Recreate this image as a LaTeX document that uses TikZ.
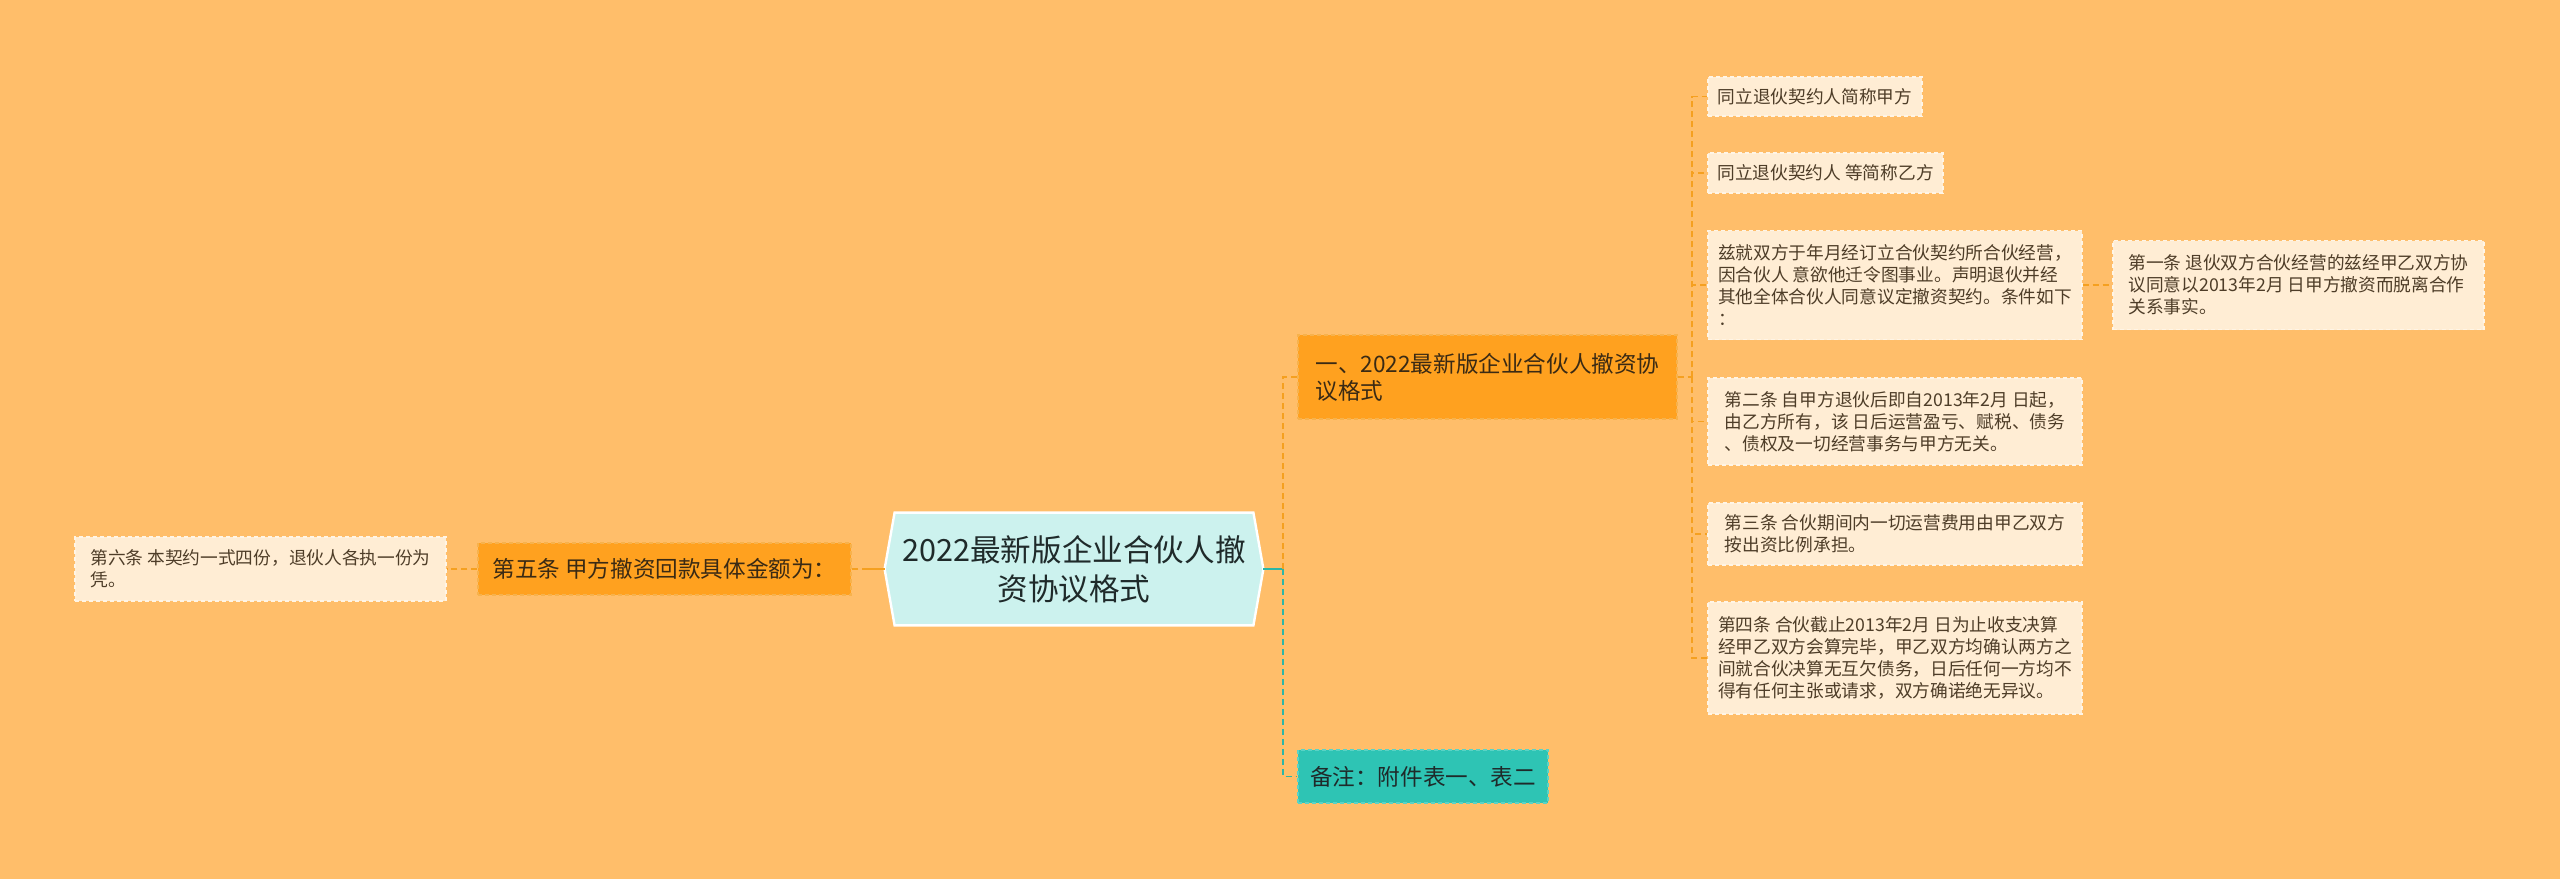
\documentclass[tikz,border=0pt]{standalone}
\usepackage{fontspec}
\usepackage{xcolor}
\usepackage{tikz}
\newfontfamily\cjk{Noto Sans CJK SC}
\usetikzlibrary{positioning,calc,backgrounds}
\pgfdeclarelayer{canvas}
\pgfsetlayers{canvas,background,main}

\definecolor{paper}{HTML}{FFBE6A}
\definecolor{leaffill}{HTML}{FFEDD4}
\definecolor{leafline}{HTML}{FFF5E6}
\definecolor{leaftext}{HTML}{4E3D28}
\definecolor{secfill}{HTML}{FFA11F}
\definecolor{secline}{HTML}{F7B24C}
\definecolor{sectext}{HTML}{3A2A14}
\definecolor{notefill}{HTML}{2EC4B4}
\definecolor{noteline}{HTML}{5AD3C6}
\definecolor{rootfill}{HTML}{CCF2EE}
\definecolor{roottext}{HTML}{1F2A2A}
\definecolor{olink}{HTML}{F5A020}
\definecolor{tlink}{HTML}{2DB6A6}

\begin{document}
\begin{tikzpicture}[x=0.5pt,y=-0.5pt,
        leaf/.style={draw=leafline, dash pattern=on 2pt off 1.5pt, line width=0.6pt, fill=leaffill,
            text=leaftext, font=\cjk\fontsize{8.85pt}{11pt}\selectfont, align=left, inner sep=0pt},
        sec/.style={draw=secline, dash pattern=on 2pt off 1.5pt, line width=0.6pt, fill=secfill,
            text=sectext, font=\cjk\fontsize{11.3pt}{13.5pt}\selectfont, align=left, inner sep=0pt},
        note/.style={sec, draw=noteline, fill=notefill, text=roottext},
        root/.style={text=roottext, font=\cjk\fontsize{15.3pt}{19.5pt}\selectfont, align=center,
            inner sep=0pt, minimum width=179pt, minimum height=56pt},
        olinkd/.style={draw=olink, line width=0.8pt, dash pattern=on 3pt off 2pt},
        tlinkd/.style={draw=tlink, line width=0.8pt, dash pattern=on 3pt off 2pt}
    ]
        \useasboundingbox (0,0) rectangle (2560,879);
        \begin{pgfonlayer}{canvas}
            \fill[paper] (0,0) rectangle (2560,879);
        \end{pgfonlayer}

        % Centre
        \node (root) [root] at (1074,569) {2022最新版企业合伙人撤\\资协议格式};
        \coordinate (rootR) at ($(root.east)+(10,0)$);
        \coordinate (rootL) at ($(root.west)+(-10,0)$);
        \begin{pgfonlayer}{background}
            \draw[white, line width=1.2pt, fill=rootfill] (root.north west) -- (root.north east) -- (rootR)
                -- (root.south east) -- (root.south west) -- (rootL) -- cycle;
        \end{pgfonlayer}

        % Main branches
        \node (sec) [sec, minimum width=189.5pt, minimum height=42pt] at (1487.5,377)
            {一、2022最新版企业合伙人撤资协\\议格式};
        \node (note) [note, minimum width=125pt, minimum height=26.5pt] at (1423,776.5)
            {备注：附件表一、表二};
        \node (art5) [sec, minimum width=186.5pt, minimum height=26pt] at (664.5,569)
            {第五条 甲方撤资回款具体金额为：};
        \node (art6) [leaf, minimum width=185.5pt, minimum height=32pt] at (260.5,569)
            {第六条 本契约一式四份，退伙人各执一份为\\凭。};

        % Leaves
        \node (alias1) [leaf, minimum width=107pt, minimum height=19.5pt] at (1815,96.5)
            {同立退伙契约人简称甲方};
        \node (alias2) [leaf, minimum width=117.5pt, minimum height=20pt] at (1825.5,173)
            {同立退伙契约人 等简称乙方};
        \node (intro) [leaf, minimum width=187pt, minimum height=54.5pt] at (1895,285)
            {兹就双方于年月经订立合伙契约所合伙经营，\\因合伙人 意欲他迁令图事业。声明退伙并经\\其他全体合伙人同意议定撤资契约。条件如下\\：};
        \node (art1) [leaf, minimum width=185.5pt, minimum height=44.5pt] at (2298.5,285)
            {第一条 退伙双方合伙经营的兹经甲乙双方协\\议同意以2013年2月 日甲方撤资而脱离合作\\关系事实。};
        \node (art2) [leaf, minimum width=187pt, minimum height=43.5pt] at (1895,421.5)
            {第二条 自甲方退伙后即自2013年2月 日起，\\由乙方所有，该 日后运营盈亏、赋税、债务\\、债权及一切经营事务与甲方无关。};
        \node (art3) [leaf, minimum width=187pt, minimum height=31pt] at (1895,534)
            {第三条 合伙期间内一切运营费用由甲乙双方\\按出资比例承担。};
        \node (art4) [leaf, minimum width=187pt, minimum height=56pt] at (1895,658)
            {第四条 合伙截止2013年2月 日为止收支决算\\经甲乙双方会算完毕，甲乙双方均确认两方之\\间就合伙决算无互欠债务，日后任何一方均不\\得有任何主张或请求，双方确诺绝无异议。};

        % Right connectors
        \coordinate (rj) at (1283,569);
        \draw [tlink, line width=1pt] (rootR) -- (rj);
        \draw [olinkd] (rj) |- (sec.west);
        \draw [tlinkd] (rj) |- (note.west);
        \coordinate (sj) at (1692,377);
        \draw [olinkd] (sec.east) -- (sj);
        \foreach \leafname in {alias1,alias2,intro,art2,art3,art4}
            \draw [olinkd] (sj) |- (\leafname.west);
        \draw [olinkd] (intro.east) -- (art1.west);

        % Left connectors
        \coordinate (lj) at (868,569);
        \draw [olink, line width=1pt] (rootL) -- (lj);
        \draw [olinkd] (lj) -- (art5.east);
        \draw [olinkd] (art5.west) -- (art6.east);
    \end{tikzpicture}
\end{document}
